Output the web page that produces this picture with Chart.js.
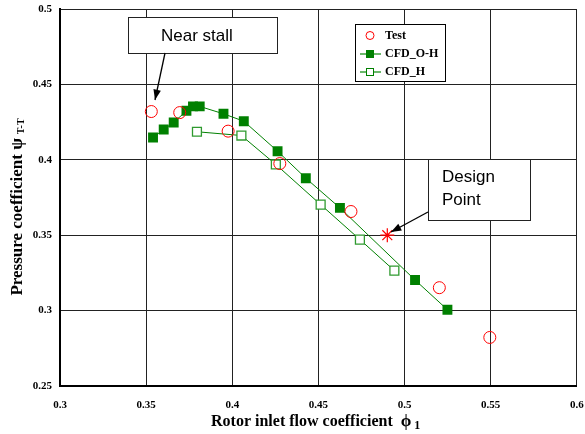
<!DOCTYPE html>
<html>
<head>
<meta charset="utf-8">
<script src="https://cdn.jsdelivr.net/npm/chart.js@4/dist/chart.umd.min.js"></script>
<style>
  html, body { margin: 0; padding: 0; background: #fff; }
  #wrap { width: 585px; height: 434px; }
</style>
</head>
<body>
<div id="wrap"><canvas id="psiChart" width="585" height="434"></canvas></div>
<script>
// ---- data ----
const testPhi = [0.353, 0.3695, 0.3976, 0.4276, 0.4689, 0.5202, 0.5495];
const testPsi = [0.432, 0.4313, 0.419, 0.3975, 0.3657, 0.3152, 0.2822];

const ohPhi = [0.354, 0.3602, 0.366, 0.3734, 0.3772, 0.3811, 0.3949, 0.4067, 0.4263, 0.4427, 0.4625, 0.5061, 0.5249];
const ohPsi = [0.4148, 0.4201, 0.4247, 0.4325, 0.4354, 0.4354, 0.4305, 0.4256, 0.4057, 0.3878, 0.3681, 0.3203, 0.3006];

const hPhi = [0.3795, 0.4053, 0.4253, 0.4513, 0.4741, 0.4941];
const hPsi = [0.4186, 0.4161, 0.3969, 0.3703, 0.3471, 0.3265];

const designPhi = [0.49];
const designPsi = [0.35];

const xTicks = [0.3, 0.35, 0.4, 0.45, 0.5, 0.55, 0.6];
const yTicks = [0.25, 0.3, 0.35, 0.4, 0.45, 0.5];

const pts = (xs, ys) => xs.map((x, i) => ({ x: x, y: ys[i] }));

const RED = "#ff0000";
const GREEN = "#008000";
const GREEN_H = "#2f9a2f";
const serif = "'Liberation Serif', 'Times New Roman', serif";
const sans = "'Liberation Sans', Arial, sans-serif";

// ---- annotations, legend and axis titles ----
const extras = {
  id: "extras",
  afterDraw(chart) {
    const c = chart.ctx;
    c.save();

    // callout box helper
    function box(x, y, w, h, lines) {
      c.fillStyle = "#fff";
      c.strokeStyle = "#222";
      c.lineWidth = 1;
      c.fillRect(x, y, w, h);
      c.strokeRect(x + 0.5, y + 0.5, w, h);
      c.fillStyle = "#000";
      c.font = "17px " + sans;
      c.textBaseline = "middle";
      c.textAlign = "left";
      lines.forEach((t, i) => c.fillText(t, x + lines.offX, y + lines.offY + i * 23));
    }
    function arrow(x1, y1, x2, y2) {
      c.strokeStyle = "#000";
      c.fillStyle = "#000";
      c.lineWidth = 1.3;
      c.beginPath();
      c.moveTo(x1, y1);
      c.lineTo(x2, y2);
      c.stroke();
      const a = Math.atan2(y2 - y1, x2 - x1);
      c.beginPath();
      c.moveTo(x2, y2);
      c.lineTo(x2 - 11 * Math.cos(a - 0.35), y2 - 11 * Math.sin(a - 0.35));
      c.lineTo(x2 - 11 * Math.cos(a + 0.35), y2 - 11 * Math.sin(a + 0.35));
      c.closePath();
      c.fill();
    }

    const nearLines = ["Near stall"];
    nearLines.offX = 33; nearLines.offY = 19;
    box(128, 17, 149, 36, nearLines);
    arrow(165, 53, 155, 100);

    const desLines = ["Design", "Point"];
    desLines.offX = 14; desLines.offY = 18;
    box(428, 159, 102, 61, desLines);
    arrow(428, 212, 391, 232);

    // legend
    c.fillStyle = "#fff";
    c.fillRect(355, 24, 90, 57);
    c.strokeStyle = "#000";
    c.lineWidth = 1;
    c.strokeRect(355.5, 24.5, 90, 57);
    c.font = "bold 12px " + serif;
    c.textBaseline = "middle";
    c.fillStyle = "#000";
    c.fillText("Test", 385, 36);
    c.fillText("CFD_O-H", 385, 54);
    c.fillText("CFD_H", 385, 72);
    c.strokeStyle = RED;
    c.beginPath();
    c.arc(370, 35.5, 4, 0, Math.PI * 2);
    c.stroke();
    c.strokeStyle = "#3aa03a";
    c.lineWidth = 1.5;
    c.beginPath(); c.moveTo(360, 54); c.lineTo(381, 54); c.stroke();
    c.fillStyle = GREEN;
    c.fillRect(366, 50, 8, 8);
    c.beginPath(); c.moveTo(360, 72); c.lineTo(381, 72); c.stroke();
    c.lineWidth = 1;
    c.strokeStyle = GREEN;
    c.fillStyle = "#fff";
    c.fillRect(366.5, 68.5, 7, 7);
    c.strokeRect(366.5, 68.5, 7, 7);

    // x axis title with subscript
    c.fillStyle = "#000";
    c.textBaseline = "alphabetic";
    c.textAlign = "left";
    c.font = "bold 16px " + serif;
    const xt = "Rotor inlet flow coefficient ";
    const xw = c.measureText(xt).width;
    const xStart = 211;
    c.fillText(xt, xStart, 426);
    c.font = "bold 17px " + serif;
    c.fillText("\u03D5", xStart + xw + 4, 426);
    const pw = c.measureText("\u03D5").width;
    c.font = "bold 12px " + serif;
    c.fillText("1", xStart + xw + pw + 7, 429);

    // y axis title, rotated
    c.translate(22, 207);
    c.rotate(-Math.PI / 2);
    c.font = "bold 17px " + serif;
    const yt = "Pressure coefficient \u03C8";
    const yw = c.measureText(yt).width;
    c.font = "bold 10px " + serif;
    const sw = c.measureText("T-T").width;
    const total = yw + 4 + sw;
    c.font = "bold 17px " + serif;
    c.fillText(yt, -total / 2, 0);
    c.font = "bold 10px " + serif;
    c.fillText("T-T", -total / 2 + yw + 4, 2);

    c.restore();
  }
};

new Chart(document.getElementById("psiChart"), {
  type: "scatter",
  data: {
    datasets: [
      {
        label: "Test",
        data: pts(testPhi, testPsi),
        showLine: false,
        pointStyle: "circle",
        pointRadius: 6,
        pointBackgroundColor: "rgba(0,0,0,0)",
        pointBorderColor: RED,
        pointBorderWidth: 1,
      },
      {
        label: "Design point",
        data: pts(designPhi, designPsi),
        showLine: false,
        pointStyle: "star",
        pointRadius: 7,
        pointBorderColor: RED,
        pointBorderWidth: 1.2,
      },
      {
        label: "CFD_O-H",
        data: pts(ohPhi, ohPsi),
        showLine: true,
        borderColor: GREEN,
        borderWidth: 1,
        pointStyle: "rect",
        pointRadius: 7,
        pointBackgroundColor: GREEN,
        pointBorderColor: GREEN,
        pointBorderWidth: 0,
      },
      {
        label: "CFD_H",
        data: pts(hPhi, hPsi),
        showLine: true,
        borderColor: GREEN,
        borderWidth: 1,
        pointStyle: "rect",
        pointRadius: 6.3,
        pointBackgroundColor: "#fff",
        pointBorderColor: GREEN_H,
        pointBorderWidth: 1.3,
      },
    ],
  },
  options: {
    responsive: false,
    animation: false,
    layout: { padding: { left: 2, right: 7, top: 9, bottom: 0 } },
    plugins: {
      legend: { display: false },
      tooltip: { enabled: false },
    },
    scales: {
      x: {
        type: "linear",
        min: 0.3,
        max: 0.6,
        afterBuildTicks: (s) => { s.ticks = xTicks.map((v) => ({ value: v })); },
        afterFit: (s) => { s.height = 48; s.paddingLeft = 0; s.paddingRight = 0; },
        ticks: {
          color: "#000",
          padding: 13,
          font: { family: serif, size: 11, weight: "bold" },
          callback: (v) => String(parseFloat(v.toFixed(2))),
        },
        grid: { color: "#222", lineWidth: 1, drawTicks: false },
        border: { color: "#000", width: 2 },
      },
      y: {
        type: "linear",
        min: 0.25,
        max: 0.5,
        afterBuildTicks: (s) => { s.ticks = yTicks.map((v) => ({ value: v })); },
        afterFit: (s) => { s.width = 58; s.paddingTop = 0; s.paddingBottom = 0; },
        ticks: {
          color: "#000",
          padding: 8,
          font: { family: serif, size: 11, weight: "bold" },
          callback: (v) => String(parseFloat(v.toFixed(2))),
        },
        grid: { color: "#222", lineWidth: 1, drawTicks: false },
        border: { color: "#000", width: 2 },
      },
    },
  },
  plugins: [extras],
});
</script>
</body>
</html>
